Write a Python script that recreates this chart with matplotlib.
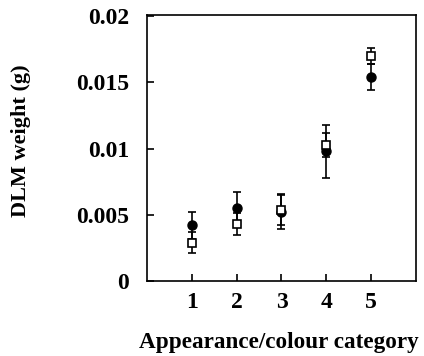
import matplotlib
matplotlib.use("Agg")
import matplotlib.pyplot as plt

plt.rcParams['font.family'] = ['Liberation Serif', 'DejaVu Serif']
plt.rcParams['font.weight'] = 'bold'

categories = [1, 2, 3, 4, 5]

# filled circles
circle_mean = [0.0042, 0.0055, 0.0052, 0.0098, 0.0154]
circle_err = [0.0010, 0.0012, 0.0013, 0.0020, 0.0010]

# open squares
square_mean = [0.0029, 0.0043, 0.0054, 0.0103, 0.0170]
square_err = [0.0008, 0.0008, 0.0012, 0.0009, 0.0006]

y_ticks = [0, 0.005, 0.01, 0.015, 0.02]
y_tick_labels = ['0', '0.005', '0.01', '0.015', '0.02']

fig = plt.figure(figsize=(4.24, 3.56), dpi=100)
ax = fig.add_axes([0.3467, 0.2107, 0.6343, 0.7472])

ax.errorbar(categories, circle_mean, yerr=circle_err, fmt='o', color='black',
            markersize=6.5, ecolor='black', elinewidth=1.2, capsize=3, capthick=1.2, zorder=2)
ax.errorbar(categories, square_mean, yerr=square_err, fmt='s', color='black',
            markerfacecolor='white', markeredgecolor='black', markeredgewidth=1.2,
            markersize=6, ecolor='black', elinewidth=1.2, capsize=3, capthick=1.2, zorder=3)

ax.set_xlim(0, 6)
ax.set_ylim(0, 0.0201)
ax.set_xticks(categories)
ax.set_yticks(y_ticks)
ax.set_yticklabels(y_tick_labels)

ax.tick_params(axis='x', direction='in', length=5, width=1.2, pad=8, labelsize=17)
ax.tick_params(axis='y', direction='in', length=5, width=1.2, pad=13, labelsize=17)
for s in ax.spines.values():
    s.set_linewidth(1.2)

ax.set_xlabel('Appearance/colour category', fontsize=16.7, fontweight='bold')
ax.set_ylabel('DLM weight (g)', fontsize=16, fontweight='bold')
ax.xaxis.set_label_coords(0.49, -0.19)
ax.yaxis.set_label_coords(-0.43, 0.526)

fig.savefig('out.png', dpi=100)
